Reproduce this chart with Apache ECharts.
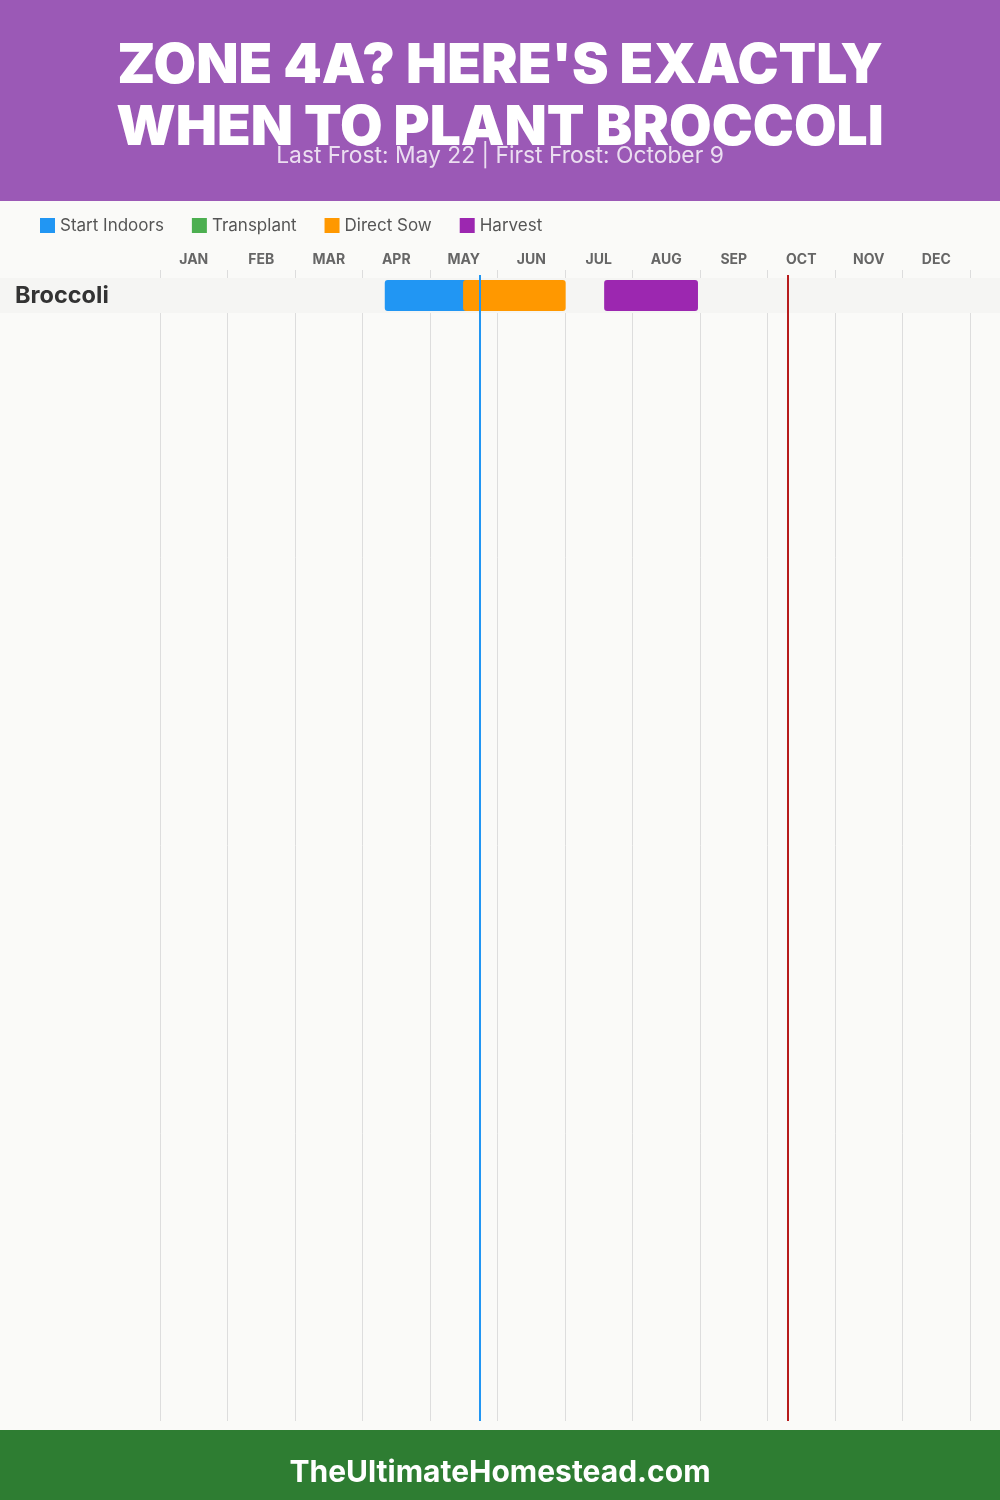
<!DOCTYPE html>
<html>
<head>
<meta charset="utf-8">
<style>
html, body { margin: 0; padding: 0; background: #fafaf8; }
#main { width: 1000px; height: 1500px; }
</style>
<script src="https://cdn.jsdelivr.net/npm/echarts@6/dist/echarts.min.js"></script>
</head>
<body>
<div id="main"></div>
<script>
var months = ['JAN', 'FEB', 'MAR', 'APR', 'MAY', 'JUN', 'JUL', 'AUG', 'SEP', 'OCT', 'NOV', 'DEC'];
var crops = ['Broccoli'];

// month units, 0 = start of January, [from, to, crop index]
var startIndoors = [[3.33, 4.65, 0]];
var transplant = [];
var directSow = [[4.49, 6.01, 0]];
var harvest = [[6.58, 7.97, 0]];

var lastFrost = [[4.74]];
var firstFrost = [[9.3]];

var font = 'Inter';
var chart = echarts.init(document.getElementById('main'));

function drawBar(params, api) {
    var start = api.coord([api.value(0), api.value(2)]);
    var end = api.coord([api.value(1), api.value(2)]);
    return {
        type: 'rect',
        shape: { x: start[0], y: start[1] - 15.5, width: end[0] - start[0], height: 31, r: 3 },
        style: { fill: api.visual('color') }
    };
}

function drawFrost(params, api) {
    var x = Math.round(api.coord([api.value(0), 0])[0]);
    var sys = params.coordSys;
    return {
        type: 'rect',
        shape: { x: x - 1, y: sys.y + 5, width: 2, height: sys.height - 5 },
        style: { fill: api.visual('color') }
    };
}

function barSeries(name, color, data) {
    return {
        name: name,
        type: 'custom',
        xAxisIndex: 2,
        yAxisIndex: 1,
        renderItem: drawBar,
        encode: { x: [0, 1], y: 2 },
        itemStyle: { color: color },
        data: data
    };
}

function frostSeries(name, color, data) {
    return {
        name: name,
        type: 'custom',
        xAxisIndex: 1,
        yAxisIndex: 0,
        z: 4,
        renderItem: drawFrost,
        encode: { x: 0 },
        itemStyle: { color: color },
        data: data
    };
}

chart.setOption({
    animation: false,
    backgroundColor: '#fafaf8',
    textStyle: { fontFamily: font },
    title: [
        {
            text: "ZONE 4A? HERE'S EXACTLY\nWHEN TO PLANT BROCCOLI",
            left: 'center',
            top: 30,
            textStyle: { color: '#fff', fontSize: 55, fontWeight: 900, lineHeight: 62, fontFamily: font }
        },
        {
            text: 'Last Frost: May 22 | First Frost: October 9',
            left: 'center',
            top: 140,
            textStyle: { color: 'rgba(255,255,255,0.8)', fontSize: 22.8, fontWeight: 400, fontFamily: font }
        },
        {
            text: 'TheUltimateHomestead.com',
            left: 'center',
            top: 1453,
            textStyle: { color: '#fff', fontSize: 30, fontWeight: 700, fontFamily: font }
        }
    ],
    legend: {
        left: 40,
        top: 217,
        padding: 0,
        itemWidth: 15,
        itemHeight: 15,
        itemGap: 28,
        icon: 'rect',
        selectedMode: false,
        data: ['Start Indoors', 'Transplant', 'Direct Sow', 'Harvest'],
        textStyle: { color: '#555', fontSize: 17, fontFamily: font }
    },
    grid: [
        { left: 160, right: 30, top: 270, bottom: 79 },
        { left: 160, right: 30, top: 278, height: 35 }
    ],
    xAxis: [
        {
            type: 'category',
            gridIndex: 0,
            position: 'top',
            data: months,
            axisLine: { show: false },
            axisTick: { show: false },
            axisLabel: { interval: 0, margin: 3, color: '#666', fontSize: 14, fontWeight: 700, fontFamily: font },
            splitLine: { show: true, interval: 0, lineStyle: { color: '#ddd', width: 1 } }
        },
        { type: 'value', gridIndex: 0, min: 0, max: 12, show: false },
        { type: 'value', gridIndex: 1, min: 0, max: 12, show: false }
    ],
    yAxis: [
        { type: 'value', gridIndex: 0, min: 0, max: 1, show: false },
        {
            type: 'category',
            gridIndex: 1,
            inverse: true,
            data: crops,
            z: 5,
            axisLine: { show: false },
            axisTick: { show: false },
            splitLine: { show: false },
            axisLabel: { margin: 145, align: 'left', color: '#333', fontSize: 23.5, fontWeight: 700, fontFamily: font, padding: [5, 0, 0, 0] }
        }
    ],
    graphic: {
        elements: [
            { type: 'rect', z: 1, shape: { x: 0, y: 0, width: 1000, height: 201 }, style: { fill: '#9b59b6' } },
            { type: 'rect', z: 1, shape: { x: 0, y: 278, width: 1000, height: 35 }, style: { fill: '#f5f5f3' } },
            { type: 'rect', z: 1, shape: { x: 0, y: 1430, width: 1000, height: 70 }, style: { fill: '#2e7d32' } }
        ]
    },
    series: [
        barSeries('Start Indoors', '#2196f3', startIndoors),
        barSeries('Transplant', '#4caf50', transplant),
        barSeries('Direct Sow', '#ff9800', directSow),
        barSeries('Harvest', '#9c27b0', harvest),
        frostSeries('Last Frost', '#2196f3', lastFrost),
        frostSeries('First Frost', '#b71c1c', firstFrost)
    ]
});
</script>
</body>
</html>
